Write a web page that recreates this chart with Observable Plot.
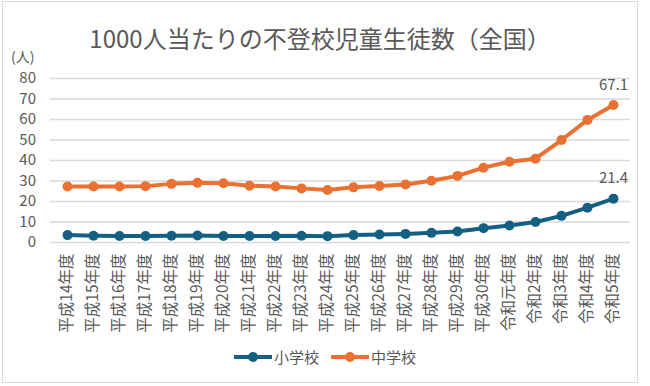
<!DOCTYPE html>
<html><head><meta charset="utf-8">
<script src="https://cdn.jsdelivr.net/npm/d3@7"></script>
<script src="https://cdn.jsdelivr.net/npm/@observablehq/plot@0.6"></script>
<style>
body{margin:0;background:#fff;font-family:"Noto Sans CJK JP","Noto Sans",sans-serif;}
#wrap{position:relative;width:650px;height:386px;overflow:hidden;background:#fff;}
#frame{position:absolute;left:2px;top:1px;width:636px;height:382px;border:1px solid #d9d9d9;box-sizing:border-box;}
#title{position:absolute;left:0;top:22px;width:640px;text-align:center;font-size:24px;color:#595959;line-height:32px;white-space:nowrap;}
#unit{position:absolute;left:11px;top:46px;font-size:14px;line-height:20px;color:#595959;}
#chart{position:absolute;left:0;top:56px;}
#legend{position:absolute;left:0;top:346px;width:650px;display:flex;justify-content:center;align-items:center;font-size:15px;color:#595959;line-height:22px;}
.item{display:flex;align-items:center;margin:0 6px;}
.item svg{margin-right:2px;}
</style>
</head><body>
<div id="wrap">
  <div id="frame"></div>
  <div id="title"></div>
  <div id="unit"></div>
  <div id="chart"></div>
  <div id="legend"></div>
</div>
<script>
const titleText = "1000人当たりの不登校児童生徒数（全国）";
const unitText = "(人)";
const years = ["平成14年度","平成15年度","平成16年度","平成17年度","平成18年度","平成19年度","平成20年度","平成21年度","平成22年度","平成23年度","平成24年度","平成25年度","平成26年度","平成27年度","平成28年度","平成29年度","平成30年度","令和元年度","令和2年度","令和3年度","令和4年度","令和5年度"];
const seriesNames = ["小学校","中学校"];
const elementary = [3.6,3.3,3.2,3.2,3.3,3.4,3.2,3.2,3.2,3.3,3.1,3.6,3.9,4.2,4.7,5.4,7.0,8.3,10.0,13.0,17.0,21.4];
const juniorHigh = [27.3,27.3,27.3,27.5,28.6,29.1,28.9,27.7,27.3,26.4,25.6,26.9,27.6,28.3,30.1,32.5,36.5,39.4,40.9,50.0,59.8,67.1];
const yTicks = [0,10,20,30,40,50,60,70,80];
const colors = ["#156082","#E97132"];

document.getElementById("title").textContent = titleText;
document.getElementById("unit").textContent = unitText;

const rows = [];
[elementary, juniorHigh].forEach((vals, s) => {
  vals.forEach((v, i) => rows.push({series: seriesNames[s], year: years[i], value: v}));
});

const chart = Plot.plot({
  width: 650,
  height: 290,
  marginLeft: 49.5,
  marginRight: 20,
  marginTop: 22,
  marginBottom: 104,
  style: {fontFamily: '"Noto Sans CJK JP","Noto Sans",sans-serif', fontSize: "15px", color: "#595959", background: "transparent", overflow: "visible"},
  x: {type: "point", domain: years, padding: 0.5},
  y: {domain: [0, 80]},
  color: {domain: seriesNames, range: colors},
  marks: [
    Plot.gridY(yTicks, {stroke: "#d9d9d9", strokeOpacity: 1, strokeWidth: 1.5}),
    Plot.axisY(yTicks, {label: null, tickSize: 0, tickPadding: 14, fontSize: 15}),
    Plot.axisX({label: null, tickSize: 0, tickRotate: -90, tickPadding: 11, fontSize: 15.5}),
    Plot.lineY(rows, {x: "year", y: "value", z: "series", stroke: "series", strokeWidth: 4}),
    Plot.dot(rows, {x: "year", y: "value", fill: "series", r: 5}),
    Plot.text(rows, Plot.selectLast({x: "year", y: "value", z: "series", text: d => d.value.toFixed(1), dy: -20, fill: "#595959", fontSize: 15}))
  ]
});
document.getElementById("chart").appendChild(chart);

const legend = document.getElementById("legend");
seriesNames.forEach((name, i) => {
  const item = document.createElement("div");
  item.className = "item";
  item.innerHTML = `<svg width="38" height="12"><line x1="0" y1="6" x2="38" y2="6" stroke="${colors[i]}" stroke-width="4"/><circle cx="19" cy="6" r="5" fill="${colors[i]}"/></svg><span>${name}</span>`;
  legend.appendChild(item);
});
</script>
</body></html>
